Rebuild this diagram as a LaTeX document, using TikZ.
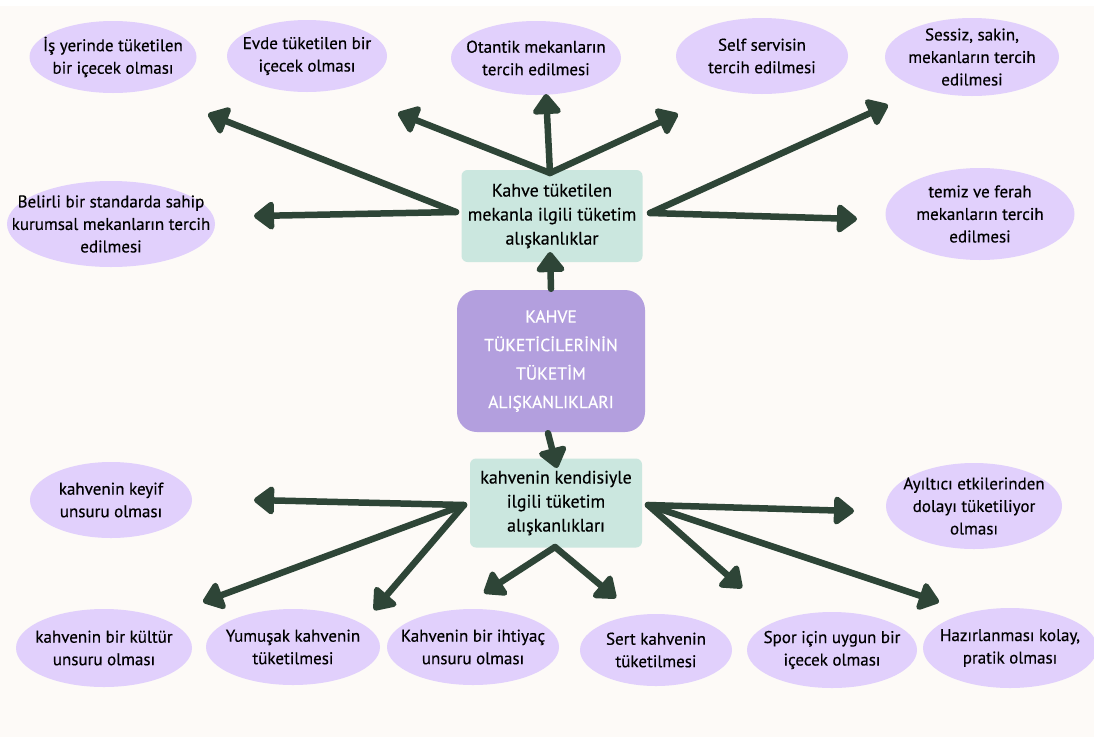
\documentclass[tikz,border=0pt]{standalone}
\usepackage{fontspec}
\setmainfont{PT Sans}[FakeBold=0.4]
\newfontfamily\cfont{PT Sans}[FakeBold=0.6]
\usetikzlibrary{shapes.geometric,arrows.meta}
\definecolor{bgc}{HTML}{FDFAF7}
\definecolor{lav}{HTML}{E1D0FC}
\definecolor{mint}{HTML}{CBE7DF}
\definecolor{purp}{HTML}{B39FDE}
\definecolor{arrc}{HTML}{2E4537}
\tikzset{
  ellbg/.style={ellipse, fill=lav, inner sep=0pt},
  etxt/.style={inner sep=0pt, align=center, text=black,
    font=\fontsize{17}{22.5}\selectfont},
  gbox/.style={rectangle, rounded corners=6pt, fill=mint, inner sep=0pt, align=center,
    font=\fontsize{18}{24}\selectfont},
  cbox/.style={rectangle, rounded corners=20pt, fill=purp, inner sep=0pt, align=center,
    text=white, font=\cfont\fontsize{17.5}{28.5}\selectfont},
  arr/.style={draw=arrc, line width=6.5pt, line cap=round, line join=round,
    -{Triangle[length=22pt,width=32pt,round]}},
}
\begin{document}
\begin{tikzpicture}[x=1pt,y=-1pt]
\useasboundingbox (0,0) rectangle (1094,737);
\fill[bgc] (0,0) rectangle (1094,737);
\fill[white] (0,0) rectangle (1094,6);
% central and boxes
\node[cbox, minimum width=188pt, minimum height=142pt] (c) at (551,361)
  {KAHVE\\TÜKETİCİLERİNİN\\TÜKETİM\\ALIŞKANLIKLARI};
\node[gbox, minimum width=181pt, minimum height=92pt] (t) at (552,216)
  {Kahve tüketilen\\mekanla ilgili tüketim\\alışkanlıklar};
\node[gbox, minimum width=172pt, minimum height=89pt] (b) at (556,503)
  {kahvenin kendisiyle\\ilgili tüketim\\alışkanlıkları};
% top ellipses
\node[ellbg, minimum width=167pt, minimum height=72pt] (e1) at (113,57) {};
\node[etxt] (e1t) at (e1) {İş yerinde tüketilen\\bir içecek olması};
\node[ellbg, minimum width=160pt, minimum height=72pt] (e2) at (307,56) {};
\node[etxt] (e2t) at (e2) {Evde tüketilen bir\\içecek olması};
\node[ellbg, minimum width=170pt, minimum height=74pt] (e3) at (536,58) {};
\node[etxt] (e3t) at (e3) {Otantik mekanların\\tercih edilmesi};
\node[ellbg, minimum width=172pt, minimum height=76pt] (e4) at (762,56) {};
\node[etxt] (e4t) at (e4) {Self servisin\\tercih edilmesi};
\node[ellbg, minimum width=174pt, minimum height=78pt] (e5) at (972,57) {};
\node[etxt] (e5t) at (e5) {Sessiz, sakin,\\mekanların tercih\\edilmesi};
\node[ellbg, minimum width=208pt, minimum height=86pt] (e6) at (111,224) {};
\node[etxt] (e6t) at (e6) {Belirli bir standarda sahip\\kurumsal mekanların tercih\\edilmesi};
\node[ellbg, minimum width=189pt, minimum height=92pt] (e7) at (980,214) {};
\node[etxt] (e7t) at (e7) {temiz ve ferah\\mekanların tercih\\edilmesi};
% bottom ellipses
\node[ellbg, minimum width=162pt, minimum height=76pt] (f1) at (111,500) {};
\node[etxt] (f1t) at (f1) {kahvenin keyif\\unsuru olması};
\node[ellbg, minimum width=176pt, minimum height=86pt] (f2) at (974,506) {};
\node[etxt] (f2t) at (f2) {Ayıltıcı etkilerinden\\dolayı tüketiliyor\\olması};
\node[ellbg, minimum width=176pt, minimum height=78pt] (g1) at (104,648) {};
\node[etxt] (g1t) at (g1) {kahvenin bir kültür\\unsuru olması};
\node[ellbg, minimum width=174pt, minimum height=76pt] (g2) at (293,647) {};
\node[etxt] (g2t) at (g2) {Yumuşak kahvenin\\tüketilmesi};
\node[ellbg, minimum width=172pt, minimum height=76pt] (g3) at (473,647) {};
\node[etxt] (g3t) at (g3) {Kahvenin bir ihtiyaç\\unsuru olması};
\node[ellbg, minimum width=152pt, minimum height=72pt] (g4) at (656,650) {};
\node[etxt] (g4t) at (g4) {Sert kahvenin\\tüketilmesi};
\node[ellbg, minimum width=170pt, minimum height=76pt] (g5) at (832,650) {};
\node[etxt] (g5t) at (g5) {Spor için uygun bir\\içecek olması};
\node[ellbg, minimum width=174pt, minimum height=80pt] (g6) at (1010,648) {};
\node[etxt] (g6t) at (g6) {Hazırlanması kolay,\\pratik olması};
% start points
\coordinate (tL) at (456,212);
\coordinate (tT) at (550,173);
\coordinate (tR) at (650,213);
\coordinate (bL) at (464,505);
\coordinate (bB) at (555,547);
\coordinate (bR) at (648,505);
% tips
\coordinate (a1) at (208,114);
\coordinate (a6) at (254,216);
\coordinate (a2) at (398,113);
\coordinate (a3) at (546,94);
\coordinate (a4) at (678,114);
\coordinate (a5) at (888,105);
\coordinate (a7) at (857,219);
\coordinate (ct) at (550,252);
\coordinate (cb) at (557,468);
\coordinate (d1) at (254,500);
\coordinate (d2) at (203,602);
\coordinate (d3) at (374,610);
\coordinate (d4) at (484,593);
\coordinate (d5) at (616,598);
\coordinate (d6) at (854,511);
\coordinate (d7) at (742,588);
\coordinate (d8) at (939,602);
% arrows
\draw[arr] (tL) -- (a1);
\draw[arr] (tL) -- (a6);
\draw[arr] (tT) -- (a2);
\draw[arr] (tT) -- (a3);
\draw[arr] (tT) -- (a4);
\draw[arr] (tR) -- (a5);
\draw[arr] (tR) -- (a7);
\draw[arr] (c.north) ++(0,-1) -- (ct);
\draw[arr] (c.south) ++(-3,1) -- (cb);
\draw[arr] (bL) -- (d1);
\draw[arr] (bL) -- (d2);
\draw[arr] (bL) -- (d3);
\draw[arr] (bB) -- (d4);
\draw[arr] (bB) -- (d5);
\draw[arr] (bR) -- (d6);
\draw[arr] (bR) -- (d7);
\draw[arr] (bR) -- (d8);
\end{tikzpicture}
\end{document}
